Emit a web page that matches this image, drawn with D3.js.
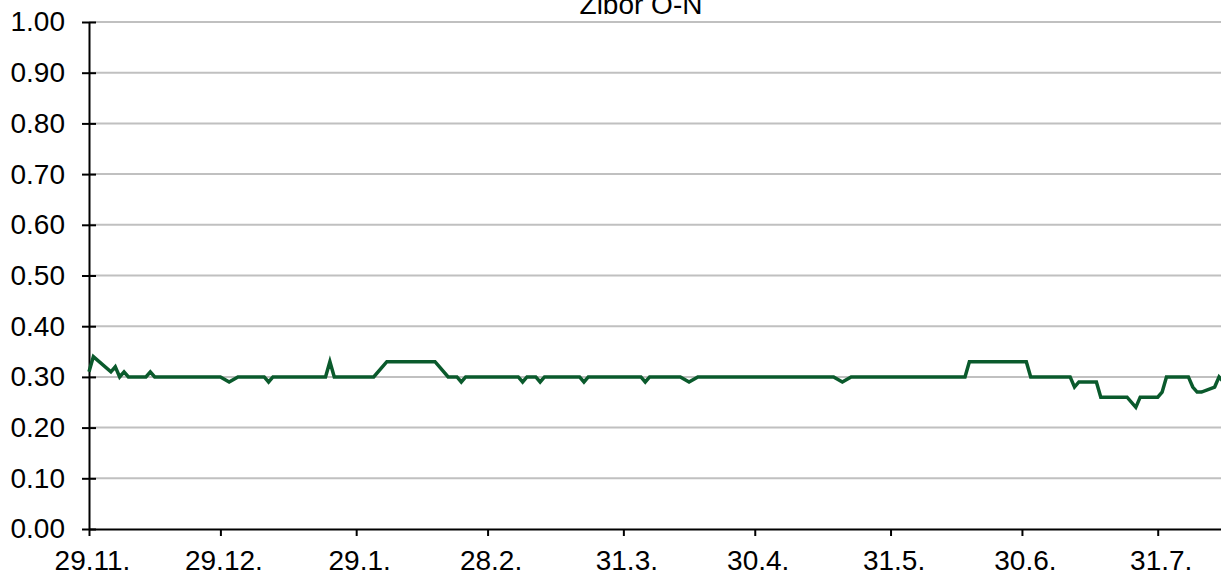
<!DOCTYPE html>
<html>
<head>
<meta charset="utf-8">
<script src="https://cdn.jsdelivr.net/npm/d3@7"></script>
<style>
  body { margin: 0; background: #fff; }
  svg text { font-family: "Liberation Sans", Arial, sans-serif; }
</style>
</head>
<body>
<svg id="chart" width="1221" height="577"></svg>
<script>
// series: Zibor O-N, only the days where the line changes direction
var dates = [
  "2010-11-29", "2010-11-30", "2010-12-04", "2010-12-05", "2010-12-06", "2010-12-07", "2010-12-08",
  "2010-12-12", "2010-12-13", "2010-12-14", "2010-12-29", "2010-12-31", "2011-01-02",
  "2011-01-08", "2011-01-09", "2011-01-10", "2011-01-22", "2011-01-23", "2011-01-24",
  "2011-02-02", "2011-02-05", "2011-02-16", "2011-02-19", "2011-02-21", "2011-02-22", "2011-02-23",
  "2011-03-07", "2011-03-08", "2011-03-09", "2011-03-11", "2011-03-12", "2011-03-13",
  "2011-03-21", "2011-03-22", "2011-03-23", "2011-04-04", "2011-04-05", "2011-04-06",
  "2011-04-13", "2011-04-15", "2011-04-17", "2011-05-18", "2011-05-20", "2011-05-22",
  "2011-06-17", "2011-06-18", "2011-07-01", "2011-07-02", "2011-07-11", "2011-07-12", "2011-07-13",
  "2011-07-17", "2011-07-18", "2011-07-24", "2011-07-26", "2011-07-27", "2011-07-31",
  "2011-08-01", "2011-08-02", "2011-08-07", "2011-08-08", "2011-08-09", "2011-08-10",
  "2011-08-13", "2011-08-14", "2011-08-15"
];
var values = [
  0.31, 0.34, 0.31, 0.32, 0.30, 0.31, 0.30,
  0.30, 0.31, 0.30, 0.30, 0.29, 0.30,
  0.30, 0.29, 0.30, 0.30, 0.33, 0.30,
  0.30, 0.33, 0.33, 0.30, 0.30, 0.29, 0.30,
  0.30, 0.29, 0.30, 0.30, 0.29, 0.30,
  0.30, 0.29, 0.30, 0.30, 0.29, 0.30,
  0.30, 0.29, 0.30, 0.30, 0.29, 0.30,
  0.30, 0.33, 0.33, 0.30, 0.30, 0.28, 0.29,
  0.29, 0.26, 0.26, 0.24, 0.26, 0.26,
  0.27, 0.30, 0.30, 0.28, 0.27, 0.27,
  0.28, 0.30, 0.29
];
var xTicks = ["2010-11-29", "2010-12-29", "2011-01-29", "2011-02-28", "2011-03-31",
              "2011-04-30", "2011-05-31", "2011-06-30", "2011-07-31"];
var yTicks = [0, 0.1, 0.2, 0.3, 0.4, 0.5, 0.6, 0.7, 0.8, 0.9, 1.0];
var title = "Zibor O-N";

var parse = d3.utcParse("%Y-%m-%d");
var data = dates.map(function(d, i) { return { date: parse(d), value: values[i] }; });

var plotLeft = 89, plotTop = 22, plotBottom = 529;
var pxPerDay = 4.38;
var start = parse("2010-11-29"), end = parse("2011-08-15");
var days = (end - start) / 864e5;

var svg = d3.select("#chart");

var x = d3.scaleUtc()
    .domain([start, end])
    .range([plotLeft, plotLeft + days * pxPerDay]);

var y = d3.scaleLinear()
    .domain([0, 1])
    .range([plotBottom, plotTop]);

// gridlines
svg.append("g")
    .selectAll("line")
    .data(yTicks.filter(function(d) { return d > 0; }))
    .enter().append("line")
    .attr("x1", plotLeft)
    .attr("x2", 1221)
    .attr("y1", function(d) { return y(d); })
    .attr("y2", function(d) { return y(d); })
    .attr("stroke", "#c0c0c0")
    .attr("stroke-width", 2);

// title (partly cut off at the top, as in the original)
svg.append("text")
    .attr("x", 641)
    .attr("y", 14)
    .attr("text-anchor", "middle")
    .style("font-size", "28px")
    .attr("fill", "#000")
    .text(title);

// Y axis
var yAxis = d3.axisLeft(y)
    .tickValues(yTicks)
    .tickFormat(d3.format(".2f"))
    .tickSizeInner(7)
    .tickSizeOuter(0)
    .tickPadding(17);

var gy = svg.append("g")
    .attr("transform", "translate(" + plotLeft + ",0)")
    .call(yAxis);
gy.select(".domain").attr("stroke", "#000").attr("stroke-width", 2);
gy.selectAll(".tick line").attr("x2", 7).attr("x1", -7).attr("stroke", "#000").attr("stroke-width", 2);
gy.selectAll(".tick text").style("font-size", "28px").attr("fill", "#000").attr("x", -24);

// X axis
var xAxis = d3.axisBottom(x)
    .tickValues(xTicks.map(parse))
    .tickFormat(d3.utcFormat("%-d.%-m."))
    .tickSizeInner(7)
    .tickSizeOuter(0)
    .tickPadding(14);

var gx = svg.append("g")
    .attr("transform", "translate(0," + plotBottom + ")")
    .call(xAxis);
gx.select(".domain").attr("stroke", "#000").attr("stroke-width", 2);
gx.selectAll(".tick line").attr("stroke", "#000").attr("stroke-width", 2);
gx.selectAll(".tick text")
    .style("font-size", "28px")
    .attr("fill", "#000")
    .attr("dx", 3)
    .attr("dy", "0.71em");

// series line
var line = d3.line()
    .x(function(d) { return x(d.date); })
    .y(function(d) { return y(d.value); });

svg.append("path")
    .datum(data)
    .attr("d", line)
    .attr("fill", "none")
    .attr("stroke", "#0a5a2c")
    .attr("stroke-width", 3.5);
</script>
</body>
</html>
